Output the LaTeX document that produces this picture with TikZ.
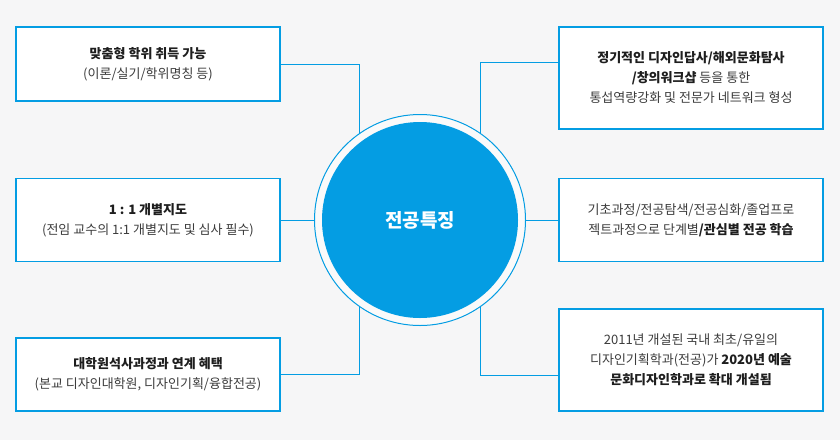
\documentclass[tikz,border=0pt]{standalone}
\usepackage{fontspec}
\setmainfont{Noto Sans CJK KR}

\definecolor{bgc}{HTML}{F6F6F7}
\definecolor{mainblue}{HTML}{049DE3}
\definecolor{txt}{HTML}{3C3C3C}
\definecolor{txtb}{HTML}{1E1E1E}

\newcommand\keytext[1]{{\bfseries\color{txtb}#1}}

\tikzset{
  infobox/.style={draw=mainblue, line width=1.2pt, fill=white, minimum width=264pt,
    inner sep=0pt, align=center, text=txt, font=\fontsize{13}{20}\selectfont},
  hubring/.style={circle, draw=mainblue, line width=1pt, fill=white!40!bgc,
    minimum size=211pt, inner sep=0pt},
  hubcore/.style={circle, fill=mainblue, minimum size=196pt, inner sep=0pt,
    text=white, font=\fontsize{19}{22}\selectfont\bfseries},
  link/.style={draw=mainblue, line width=1pt},
}

\begin{document}
\begin{tikzpicture}[x=1pt,y=-1pt]
% Background
\fill[bgc] (0,0) rectangle (840,440);

% Center circle
\node[hubring] (hub) at (420,220) {};
\node[hubcore] (core) at (hub) {전공특징};

% Left boxes
\node[infobox,minimum height=74pt] (b1) at (148,64)
  {\keytext{맞춤형 학위 취득 가능}\\(이론/실기/학위명칭 등)};
\node[infobox,minimum height=83pt] (b2) at (148,220)
  {\keytext{1 : 1 개별지도}\\(전임 교수의 1:1 개별지도 및 심사 필수)};
\node[infobox,minimum height=73pt] (b3) at (148,374.5)
  {\keytext{대학원석사과정과 연계 혜택}\\(본교 디자인대학원, 디자인기획/융합전공)};

% Right boxes
\node[infobox,minimum height=102pt] (b4) at (691,78)
  {\keytext{정기적인 디자인답사/해외문화탐사}\\\keytext{/창의워크샵} 등을 통한\\통섭역량강화 및 전문가 네트워크 형성};
\node[infobox,minimum height=83pt] (b5) at (691,220)
  {기초과정/전공탐색/전공심화/졸업프로\\젝트과정으로 단계별\keytext{/관심별 전공 학습}};
\node[infobox,minimum height=102pt] (b6) at (691,360)
  {2011년 개설된 국내 최초/유일의\\디자인기획학과(전공)가 \keytext{2020년 예술}\\\keytext{문화디자인학과로 확대 개설됨}};

% Connectors
\draw[link] (b1.east) -| (hub.125);
\draw[link] (b2.east) -- (hub.west);
\draw[link] (b3.east) -| (hub.235);
\draw[link] (hub.55) |- ([yshift=16pt]b4.west);
\draw[link] (hub.east) -- (b5.west);
\draw[link] (hub.-55) |- ([yshift=-15pt]b6.west);
\end{tikzpicture}
\end{document}
